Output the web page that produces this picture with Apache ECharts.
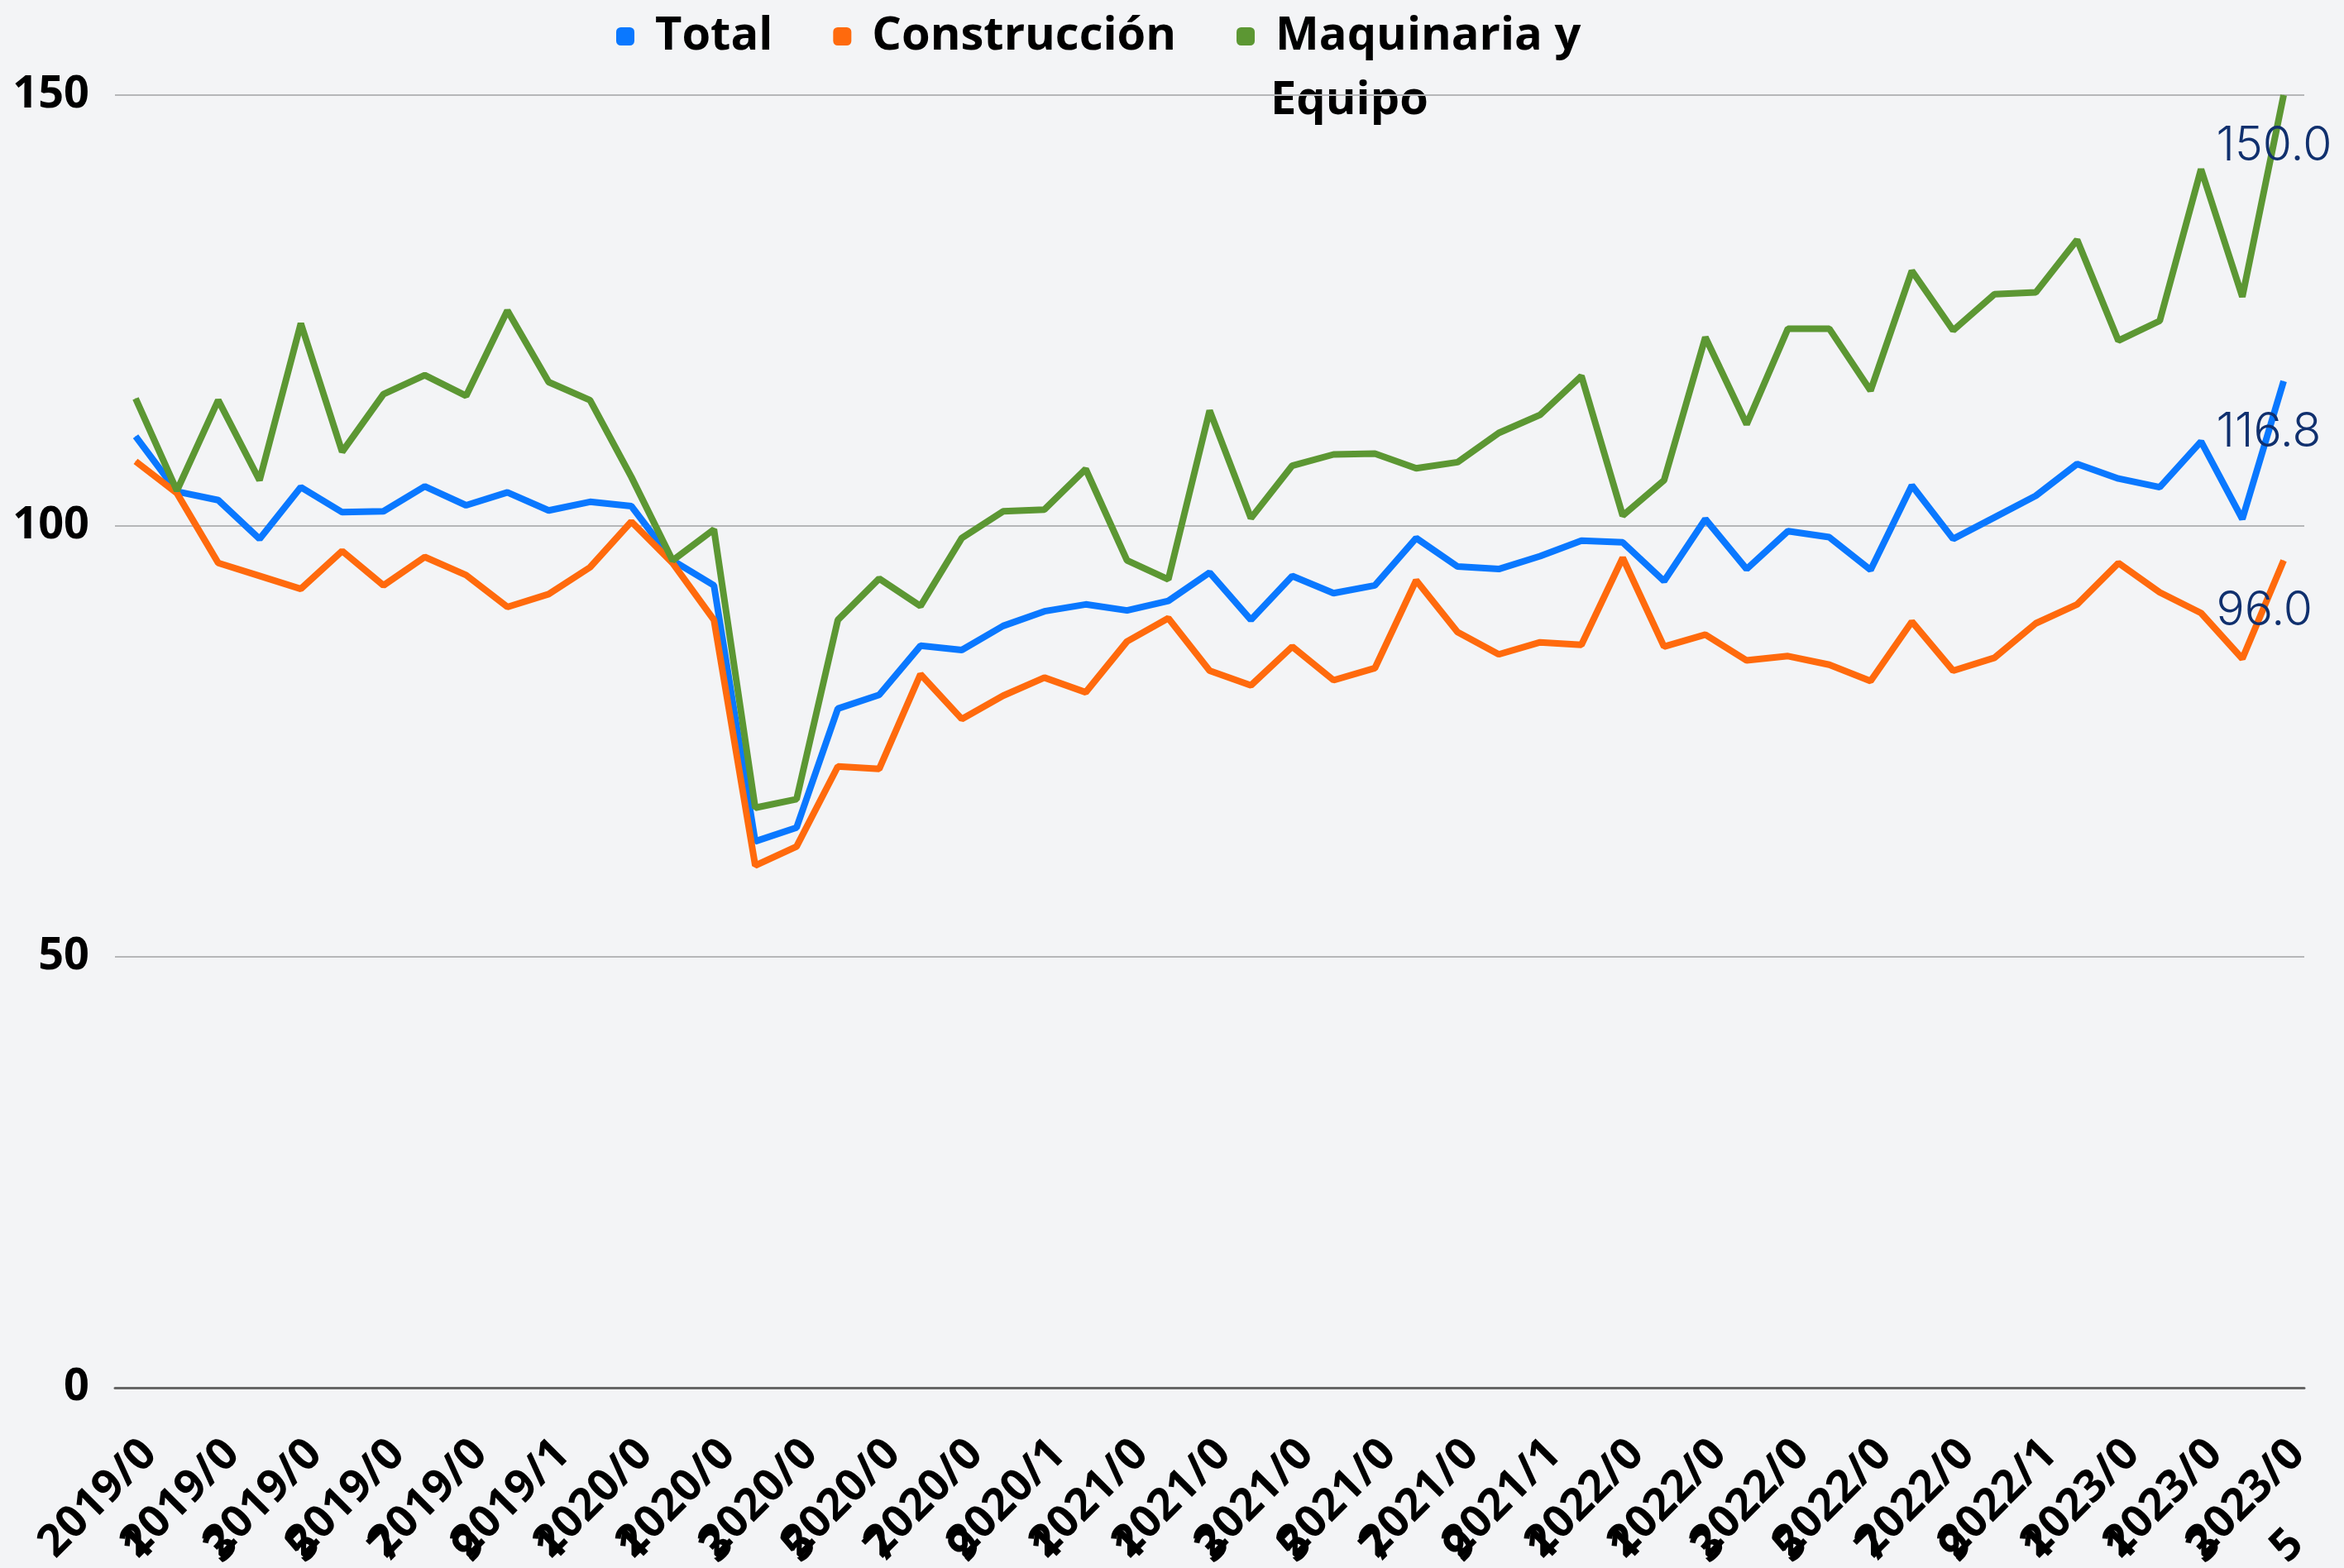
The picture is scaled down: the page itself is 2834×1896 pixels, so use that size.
<!DOCTYPE html>
<html>
<head>
<meta charset="utf-8">
<script src="https://cdn.jsdelivr.net/npm/echarts@6/dist/echarts.min.js"></script>
<style>
  html, body { margin: 0; padding: 0; background: #f3f4f6; }
  #chart { width: 2834px; height: 1896px; }
</style>
</head>
<body>
<div id="chart"></div>
<script>
// meses 2019/01 .. 2023/05
const meses = [
  '2019/01','2019/02','2019/03','2019/04','2019/05','2019/06','2019/07','2019/08','2019/09','2019/10','2019/11','2019/12',
  '2020/01','2020/02','2020/03','2020/04','2020/05','2020/06','2020/07','2020/08','2020/09','2020/10','2020/11','2020/12',
  '2021/01','2021/02','2021/03','2021/04','2021/05','2021/06','2021/07','2021/08','2021/09','2021/10','2021/11','2021/12',
  '2022/01','2022/02','2022/03','2022/04','2022/05','2022/06','2022/07','2022/08','2022/09','2022/10','2022/11','2022/12',
  '2023/01','2023/02','2023/03','2023/04','2023/05'
];

const total = [
  110.4, 104.0, 103.0, 98.5, 104.5, 101.6, 101.7, 104.6, 102.4, 103.9, 101.8, 102.8,
  102.3, 96.0, 93.1, 63.4, 65.0, 78.8, 80.4, 86.1, 85.6, 88.4, 90.1, 90.9,
  90.2, 91.3, 94.6, 89.1, 94.2, 92.2, 93.1, 98.6, 95.3, 95.0, 96.5, 98.3,
  98.1, 93.6, 100.8, 95.0, 99.4, 98.7, 94.9, 104.7, 98.5, 101.0, 103.5, 107.2,
  105.5, 104.5, 109.8, 100.8, 116.8
];

const construccion = [
  107.5, 103.8, 95.7, 94.2, 92.7, 97.1, 93.1, 96.4, 94.3, 90.6, 92.1, 95.2,
  100.5, 95.7, 89.1, 60.6, 62.8, 72.1, 71.8, 82.8, 77.6, 80.3, 82.4, 80.7,
  86.6, 89.3, 83.2, 81.5, 86.0, 82.1, 83.5, 93.7, 87.7, 85.1, 86.5, 86.2,
  96.3, 86.0, 87.4, 84.4, 84.9, 83.9, 82.0, 88.9, 83.2, 84.7, 88.7, 90.9,
  95.7, 92.3, 89.9, 84.6, 96.0
];

const maquinaria = [
  114.8, 104.1, 114.6, 105.3, 123.5, 108.6, 115.3, 117.5, 115.1, 125.0, 116.7, 114.6,
  105.7, 96.0, 99.6, 67.3, 68.3, 89.1, 93.9, 90.7, 98.6, 101.7, 101.9, 106.6,
  96.0, 93.8, 113.4, 100.9, 107.0, 108.3, 108.4, 106.7, 107.4, 110.8, 112.9, 117.4,
  101.2, 105.3, 121.9, 111.8, 122.9, 122.9, 115.7, 129.6, 122.7, 126.9, 127.1, 133.2,
  121.5, 123.8, 141.4, 126.6, 150.0
];

const yTicks = [0, 50, 100, 150];

const colores = ['#0a78ff', '#ff6a0d', '#5c9733'];
const fuente = '"Open Sans", "Noto Sans", sans-serif';

// solo el ultimo punto lleva etiqueta
const conEtiquetaFinal = arr => arr.map((v, i) =>
  i === arr.length - 1 ? { value: v, label: { show: true } } : v);

const serie = (name, datos, color) => ({
  name: name,
  type: 'line',
  data: conEtiquetaFinal(datos),
  symbol: 'circle',
  symbolSize: 1,
  showSymbol: true,
  showAllSymbol: true,
  itemStyle: { color: color },
  lineStyle: { color: color, width: 8 },
  label: {
    show: false,
    position: [-81, 62],
    align: 'left',
    verticalAlign: 'middle',
    formatter: p => Number(p.value).toFixed(1),
    fontFamily: 'Inter, Lato, sans-serif',
    fontWeight: 300,
    fontSize: 57,
    color: '#10306e'
  }
});

const chart = echarts.init(document.getElementById('chart'));

const option = {
  animation: false,
  backgroundColor: '#f3f4f6',
  color: colores,
  grid: { left: 139, right: 48, top: 115, bottom: 218, containLabel: false, outerBoundsMode: 'none' },
  legend: {
    left: 740,
    top: 11,
    icon: 'roundRect',
    itemWidth: 22,
    itemHeight: 22,
    itemGap: 73,
    formatter: n => n === 'Maquinaria y Equipo' ? 'Maquinaria y' : n,
    textStyle: {
      fontFamily: fuente,
      fontWeight: 'bold',
      fontSize: 56,
      color: '#000',
      padding: [0, 0, 0, 20]
    }
  },
  graphic: [{
    type: 'text',
    x: 1536,
    y: 122,
    style: {
      text: 'Equipo',
      font: 'bold 56px "Open Sans", "Noto Sans", sans-serif',
      fill: '#000',
      verticalAlign: 'middle'
    }
  }],
  xAxis: {
    type: 'category',
    data: meses,
    boundaryGap: true,
    axisLine: { lineStyle: { color: '#666', width: 3 } },
    axisTick: { show: false },
    axisLabel: {
      interval: 0,
      rotate: 45,
      margin: 35,
      align: 'right',
      verticalAlign: 'top',
      // una etiqueta cada dos meses, partida en dos lineas
      formatter: (v, i) => i % 2 ? '' : '{a|' + v.slice(0, 6) + '}\n{b|' + v.slice(6) + '}',
      rich: {
        a: { fontFamily: fuente, fontWeight: 'bold', fontSize: 54, color: '#000', lineHeight: 76, padding: [0, 14, 0, 0] },
        b: { fontFamily: fuente, fontWeight: 'bold', fontSize: 54, color: '#000', lineHeight: 76, padding: [0, 92, 0, 0] }
      }
    }
  },
  yAxis: {
    type: 'value',
    min: yTicks[0],
    max: yTicks[yTicks.length - 1],
    interval: 50,
    axisLine: { show: false },
    axisTick: { show: false },
    axisLabel: { fontFamily: fuente, fontWeight: 'bold', fontSize: 54, color: '#000', margin: 31 },
    splitLine: { lineStyle: { color: '#b5b6b8', width: 2 } }
  },
  series: [
    serie('Total', total, colores[0]),
    serie('Construcción', construccion, colores[1]),
    serie('Maquinaria y Equipo', maquinaria, colores[2])
  ]
};

chart.setOption(option);
</script>
</body>
</html>
